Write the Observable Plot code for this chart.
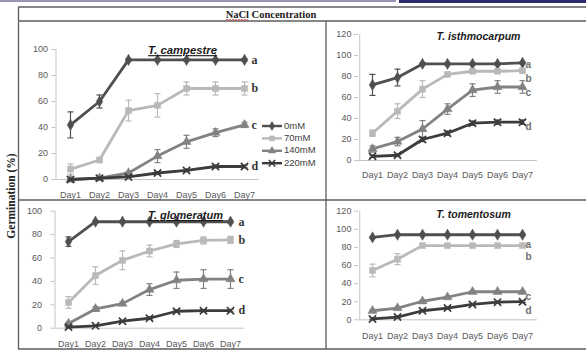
<!DOCTYPE html>
<html><head><meta charset="utf-8">
<script src="https://cdn.jsdelivr.net/npm/d3@7"></script>
<script src="https://cdn.jsdelivr.net/npm/@observablehq/plot@0.6"></script>
<style>
body{margin:0;background:#fff;}
#root{position:relative;width:586px;height:352px;overflow:hidden;background:#fff;}
.panel{position:absolute;}
</style></head><body><div id="root"></div>
<script>
// ---------- data ----------
const days = ["Day1","Day2","Day3","Day4","Day5","Day6","Day7"];
const concentrations = ["0mM","70mM","140mM","220mM"];
const letters = ["a","b","c","d"];
const headerText = "NaCl Concentration";
const yLabel = "Germination (%)";

const campestreTitle = "T. campestre";
const campestre0   = [42, 60, 92, 92, 92, 92, 92];
const campestre70  = [8, 15, 53, 57, 70, 70, 70];
const campestre140 = [0, 1, 5, 18, 29, 36, 42];
const campestre220 = [0, 1, 2, 5, 7, 10, 10];
const campestre0Err   = [10, 5, 1, 1, 1, 1, 1];
const campestre70Err  = [4, 2, 8, 9, 5, 5, 5];
const campestre140Err = [1, 1, 1, 5, 5, 3, 2];
const campestre220Err = [0.5, 0.5, 0.5, 1, 1, 1, 1];

const isthmoTitle = "T. isthmocarpum";
const isthmo0   = [72, 79, 92, 92, 92, 92, 93];
const isthmo70  = [26, 47, 68, 82, 85, 85, 85.5];
const isthmo140 = [11, 18, 30, 49, 67, 70, 70];
const isthmo220 = [4, 5, 20, 26, 35.5, 36.5, 36.5];
const isthmo0Err   = [10, 8, 1, 1, 1, 1, 1];
const isthmo70Err  = [3, 7, 8, 2, 2, 2, 2];
const isthmo140Err = [3, 4, 8, 5, 6, 6, 6];
const isthmo220Err = [1, 1, 2, 2, 2, 2, 2];

const glomTitle = "T. glomeratum";
const glom0   = [74, 91, 91, 91, 91, 91, 91];
const glom70  = [22, 45, 58, 66, 72, 75, 75.5];
const glom140 = [4, 16.5, 21, 33, 41, 42, 42];
const glom220 = [1, 2, 6, 8.5, 14.5, 15, 15];
const glom0Err   = [4, 1, 1, 1, 1, 1, 1];
const glom70Err  = [5, 7.5, 8, 5, 3, 3, 3];
const glom140Err = [1, 2, 1.5, 5, 7, 8, 8];
const glom220Err = [0.5, 0.5, 0.5, 1, 1, 1, 1];

const tomTitle = "T. tomentosum";
const tom0   = [91, 94, 94, 94, 94, 94, 94];
const tom70  = [54.5, 67, 82, 82, 82, 82, 82];
const tom140 = [10, 13, 20.5, 25, 31, 31, 31];
const tom220 = [1, 3, 10, 13, 17, 19.5, 20];
const tom0Err   = [1, 1, 1, 1, 1, 1, 1];
const tom70Err  = [7, 6, 0.5, 0.5, 0.5, 0.5, 0.5];
const tom140Err = [1, 1, 1, 1, 1, 1, 1];
const tom220Err = [1, 1, 1, 1, 1, 1, 1];

const yTicks100 = [0, 20, 40, 60, 80, 100];
const yTicks120 = [0, 20, 40, 60, 80, 100, 120];

// ---------- styles ----------
const seriesColors = ["#4f4f4f", "#b9b9b9", "#828282", "#3c3c3c"];
const seriesSymbols = ["diamond", "square", "triangle", "times"];
const axisColor = "#c4c4c4";
const tickTextColor = "#595959";
const sans = "'Liberation Sans', Arial, sans-serif";
const serif = "'Liberation Serif', 'Times New Roman', serif";
// horizontal error-bar cap drawn as a custom dot symbol
const capSymbol = {draw(ctx, size) { const r = Math.sqrt(size / Math.PI); ctx.moveTo(-r, 0); ctx.lineTo(r, 0); }};

const panels = [
  {title: campestreTitle, series: [campestre0, campestre70, campestre140, campestre220],
   errs: [campestre0Err, campestre70Err, campestre140Err, campestre220Err], yTicks: yTicks100,
   L: {left: 20, top: 24, width: 300, height: 180, ml: 35.5, mr: 61.5, mt: 25, mb: 25,
       ytp: 4, xtp: 12, tx: 182, ty: 50, tsize: 11.3, underline: true,
       lfont: serif, lsize: 12, lcolor: "#333", ldx: 7, ldy: [0, 0, 0, 0]}},
  {title: isthmoTitle, series: [isthmo0, isthmo70, isthmo140, isthmo220],
   errs: [isthmo0Err, isthmo70Err, isthmo140Err, isthmo220Err], yTicks: yTicks120,
   L: {left: 328, top: 24, width: 258, height: 176, ml: 29.9, mr: 49.2, mt: 10, mb: 40,
       ytp: 3, xtp: 11.5, tx: 478, ty: 36, tsize: 10.5, underline: false,
       lfont: sans, lsize: 10, lcolor: "#707070", ldx: 3, ldy: [2, 8, 6, 5]}},
  {title: glomTitle, series: [glom0, glom70, glom140, glom220],
   errs: [glom0Err, glom70Err, glom140Err, glom220Err], yTicks: yTicks100,
   L: {left: 20, top: 200, width: 300, height: 150, ml: 34.5, mr: 76.5, mt: 10.7, mb: 22.3,
       ytp: 9, xtp: 12.5, tx: 185, ty: 215, tsize: 11, underline: true,
       lfont: serif, lsize: 12, lcolor: "#333", ldx: 8, ldy: [0, 0, 0, 0]}},
  {title: tomTitle, series: [tom0, tom70, tom140, tom220],
   errs: [tom0Err, tom70Err, tom140Err, tom220Err], yTicks: yTicks120,
   L: {left: 328, top: 202, width: 258, height: 145, ml: 29.9, mr: 49.2, mt: 8.7, mb: 27.7,
       ytp: 3, xtp: 13, tx: 473, ty: 214, tsize: 10.5, underline: false,
       lfont: sans, lsize: 10, lcolor: "#707070", ldx: 3, ldy: [10, 11, 5, 9]}}
];

const root = d3.select("#root");

function makePanel(p) {
  const L = p.L;
  const plotW = L.width - L.ml - L.mr;
  const half = plotW / 7 / 2;
  const yMax = p.yTicks[p.yTicks.length - 1];
  const marks = [
    Plot.ruleY([0], {stroke: axisColor, strokeWidth: 1}),
    Plot.ruleX([days[0]], {dx: -half, stroke: axisColor, strokeWidth: 1}),
    Plot.axisY({ticks: p.yTicks, tickSize: 4, tickPadding: L.ytp, fontSize: 9,
                stroke: axisColor, fill: tickTextColor, label: null, fontFamily: sans}),
    Plot.axisX({tickSize: 0, tickPadding: L.xtp, fontSize: 9, fill: tickTextColor,
                label: null, fontFamily: sans})
  ];
  p.series.forEach((vals, si) => {
    const color = seriesColors[si];
    const rows = vals.map((v, di) => ({day: days[di], value: v, err: p.errs[si][di]}));
    marks.push(
      Plot.ruleX(rows, {x: "day", y1: d => d.value - d.err, y2: d => d.value + d.err, stroke: color, strokeWidth: 1.2}),
      Plot.dot(rows, {x: "day", y: d => d.value + d.err, symbol: capSymbol, r: 3, fill: "none", stroke: color, strokeWidth: 1.2}),
      Plot.dot(rows, {x: "day", y: d => d.value - d.err, symbol: capSymbol, r: 3, fill: "none", stroke: color, strokeWidth: 1.2}),
      Plot.line(rows, {x: "day", y: "value", stroke: color, strokeWidth: 2.8}),
      seriesSymbols[si] === "times"
        ? Plot.dot(rows, {x: "day", y: "value", symbol: "times", r: 3.4, stroke: color, strokeWidth: 1.7})
        : Plot.dot(rows, {x: "day", y: "value", symbol: seriesSymbols[si], r: 3.4, fill: color, stroke: color, strokeWidth: 0.5})
    );
  });
  p.series.forEach((s, i) => {
    marks.push(Plot.text([letters[i]], {x: () => days[6], y: () => s[s.length - 1], text: d => d,
      dx: L.ldx, dy: L.ldy[i], textAnchor: "start", fontFamily: L.lfont, fontSize: L.lsize,
      fill: L.lcolor, fontWeight: "bold"}));
  });
  marks.push(Plot.text([p.title], {frameAnchor: "top-left", text: d => d,
    dx: (L.tx - L.left) - L.ml, dy: (L.ty - L.top) - L.mt, textAnchor: "middle", lineAnchor: "middle",
    fontFamily: sans, fontSize: L.tsize, fontWeight: "bold", fontStyle: "italic", fill: "#1a1a1a"}));

  const svg = Plot.plot({
    width: L.width, height: L.height,
    marginLeft: L.ml, marginRight: L.mr, marginTop: L.mt, marginBottom: L.mb,
    x: {type: "point", domain: days, padding: 0.5, axis: null},
    y: {domain: [0, yMax], axis: null},
    style: {background: "transparent", overflow: "visible", fontFamily: sans},
    marks
  });
  if (L.underline) {
    d3.select(svg).selectAll("text").filter(function () { return this.textContent === p.title; })
      .style("text-decoration", "underline");
  }
  root.append("div").attr("class", "panel")
    .style("left", L.left + "px").style("top", L.top + "px")
    .node().appendChild(svg);
}
panels.forEach(makePanel);

// ---------- frame, header, y label, legend ----------
const ov = root.append("svg").attr("width", 586).attr("height", 352)
  .style("position", "absolute").style("left", "0px").style("top", "0px").style("pointer-events", "none");
ov.append("line").attr("x1", 0).attr("x2", 396).attr("y1", 1).attr("y2", 1).attr("stroke", "#2c2d6e").attr("stroke-width", 1.2);
ov.append("rect").attr("x", 399).attr("y", 0).attr("width", 187).attr("height", 3).attr("fill", "#2c2d6e");
const frameColor = "#5e5e5e";
const fl = (x1, y1, x2, y2, w) => ov.append("line").attr("x1", x1).attr("y1", y1).attr("x2", x2).attr("y2", y2)
  .attr("stroke", frameColor).attr("stroke-width", w);
fl(18, 7, 586, 7, 1.6);
fl(18, 21, 586, 21, 1.6);
fl(18.5, 7, 18.5, 349, 1.3);
fl(326, 21, 326, 349, 1.3);
fl(18, 200, 586, 200, 1.3);
fl(18, 349, 586, 349, 1.6);

const hdr = ov.append("text").attr("x", 271).attr("y", 17.5).attr("text-anchor", "middle")
  .attr("font-family", serif).attr("font-size", 10.5).attr("font-weight", "bold").attr("fill", "#222")
  .text(headerText);
try {
  const start = hdr.node().getStartPositionOfChar(0).x;
  const end = hdr.node().getEndPositionOfChar(3).x;
  let pts = [];
  for (let x = start, k = 0; x <= end; x += 1.5, k++) pts.push([x, k % 2 ? 19.2 : 20.4]);
  ov.append("path").attr("d", d3.line()(pts)).attr("fill", "none").attr("stroke", "#d03030").attr("stroke-width", 0.8);
} catch (e) {}

ov.append("text").attr("transform", "translate(12,196) rotate(-90)").attr("text-anchor", "middle")
  .attr("dominant-baseline", "middle")
  .attr("font-family", serif).attr("font-size", 11.5).attr("font-weight", "bold").attr("fill", "#222")
  .text(yLabel);

const symMap = {diamond: d3.symbolDiamond, square: d3.symbolSquare, triangle: d3.symbolTriangle, times: d3.symbolTimes || d3.symbolCross};
concentrations.forEach((c, i) => {
  const y = 126 + i * 12.4;
  const g = ov.append("g");
  g.append("line").attr("x1", 262).attr("x2", 282).attr("y1", y).attr("y2", y)
    .attr("stroke", seriesColors[i]).attr("stroke-width", 2.4);
  const isStroke = seriesSymbols[i] === "times";
  g.append("path").attr("transform", `translate(272,${y})`)
    .attr("d", d3.symbol(symMap[seriesSymbols[i]], isStroke ? 28 : 24)())
    .attr("fill", isStroke ? "none" : seriesColors[i])
    .attr("stroke", seriesColors[i]).attr("stroke-width", isStroke ? 1.5 : 0.5);
  g.append("text").attr("x", 284).attr("y", y).attr("dominant-baseline", "middle")
    .attr("font-family", sans).attr("font-size", 9.5).attr("fill", "#404040").text(c);
});
</script>
</body></html>
